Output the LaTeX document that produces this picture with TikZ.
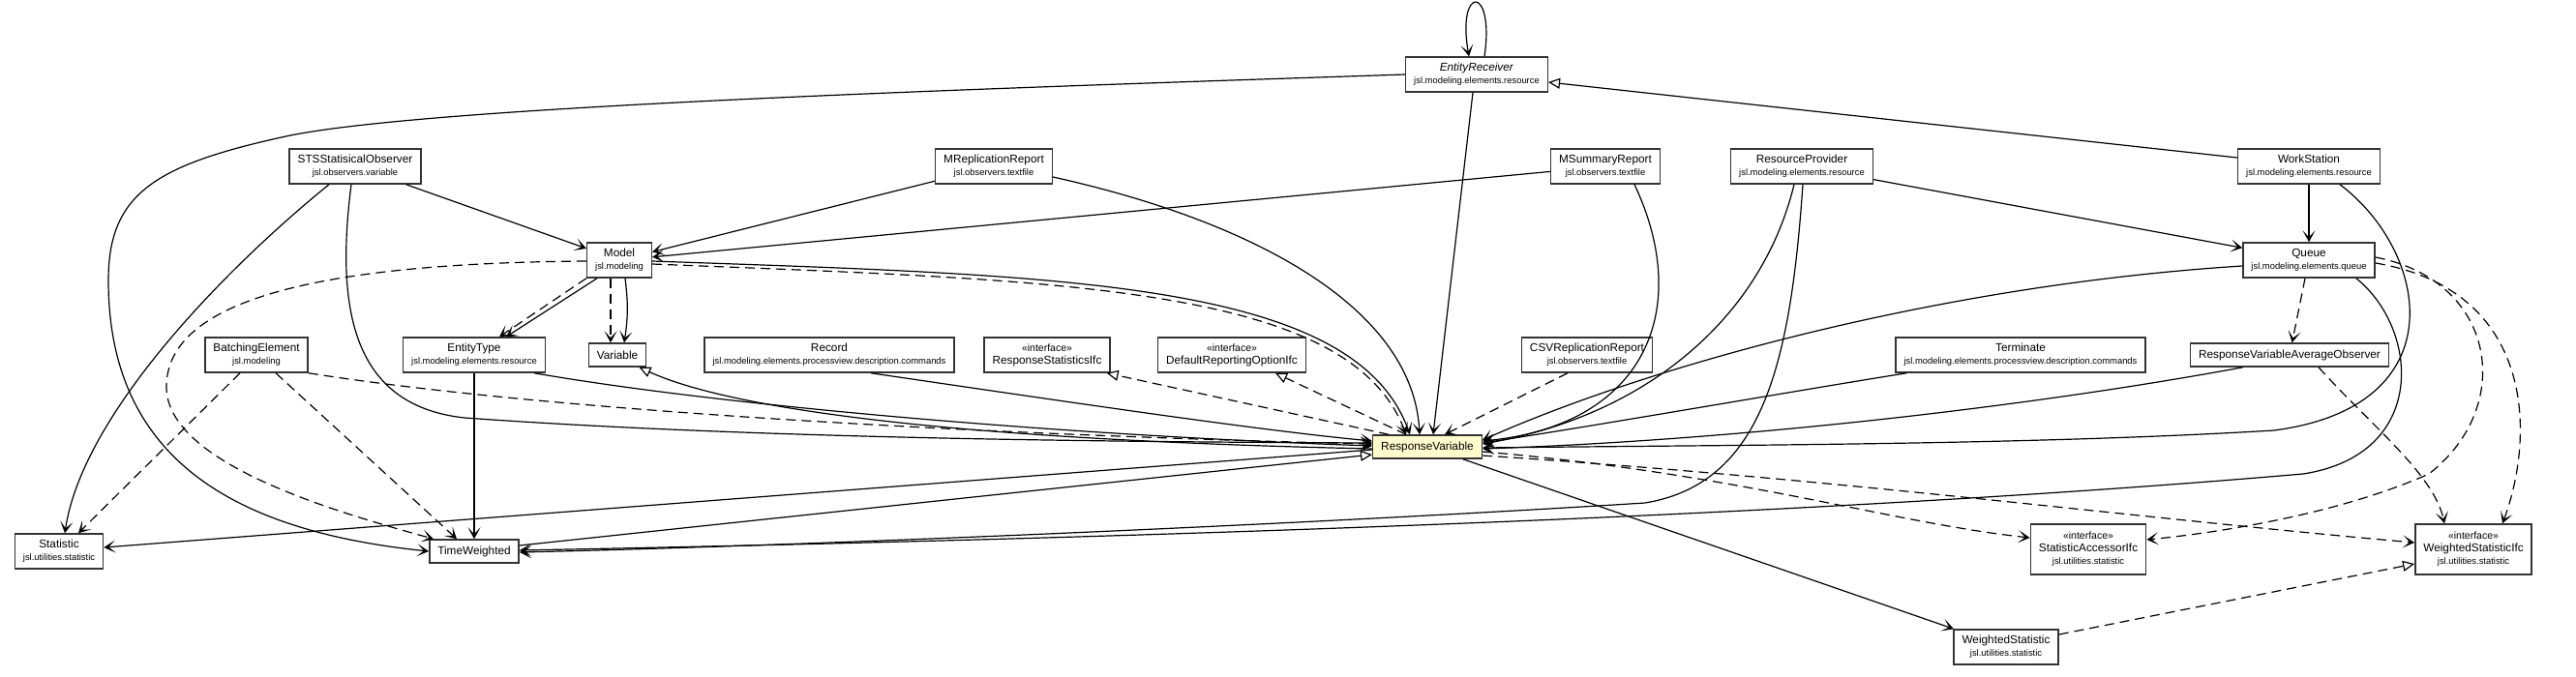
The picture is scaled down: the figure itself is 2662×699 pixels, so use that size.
\documentclass[tikz,border=0pt]{standalone}
\usepackage{fontspec}
\setmainfont{Liberation Sans}
\usepackage{tikz}
\usetikzlibrary{arrows.meta}
\definecolor{BoxLine}{HTML}{333333}
\definecolor{FocusYellow}{HTML}{FFFBCC}
\newcommand{\pkg}[1]{{\fontsize{9.4}{13}\selectfont #1}}
\newcommand{\ifc}{{\fontsize{10.5}{13}\selectfont «interface»}}

\begin{document}
\begin{tikzpicture}[x=1pt,y=-1pt,
  cls/.style={draw=BoxLine, line width=1.5pt, fill=white, align=center, inner xsep=8.5pt, inner ysep=2pt, minimum height=36pt, font=\fontsize{11.8}{13}\selectfont},
  single/.style={cls, minimum height=24pt},
  tall/.style={cls, minimum height=52pt},
  uses/.style={line width=1.2pt, -{Stealth[length=12pt,width=13pt,inset=7pt]}},
  dep/.style={uses, dash pattern=on 10pt off 6pt},
  ext/.style={line width=1.2pt, -{Triangle[length=12pt,width=11pt,fill=white]}},
  impl/.style={ext, dash pattern=on 10pt off 6pt}]
  \useasboundingbox (0,0) rectangle (2662,699);
  % classes
  \node[cls] (er) at (1526,77) {\textit{EntityReceiver}\\\pkg{jsl.modeling.elements.resource}};
  \node[cls] (sts) at (367,172) {STSStatisicalObserver\\\pkg{jsl.observers.variable}};
  \node[cls] (mrep) at (1027,172) {MReplicationReport\\\pkg{jsl.observers.textfile}};
  \node[cls] (msum) at (1659,172) {MSummaryReport\\\pkg{jsl.observers.textfile}};
  \node[cls] (rprov) at (1862,172) {ResourceProvider\\\pkg{jsl.modeling.elements.resource}};
  \node[cls] (ws) at (2386,172) {WorkStation\\\pkg{jsl.modeling.elements.resource}};
  \node[cls] (model) at (640,269) {Model\\\pkg{jsl.modeling}};
  \node[cls] (queue) at (2386,269) {Queue\\\pkg{jsl.modeling.elements.queue}};
  \node[cls] (batch) at (265,367) {BatchingElement\\\pkg{jsl.modeling}};
  \node[cls] (etype) at (490,367) {EntityType\\\pkg{jsl.modeling.elements.resource}};
  \node[single] (var) at (638,367) {Variable};
  \node[cls] (rec) at (857,367) {Record\\\pkg{jsl.modeling.elements.processview.description.commands}};
  \node[cls] (rsifc) at (1082,367) {\ifc\\ResponseStatisticsIfc};
  \node[cls] (droifc) at (1273,367) {\ifc\\DefaultReportingOptionIfc};
  \node[cls] (csv) at (1640,367) {CSVReplicationReport\\\pkg{jsl.observers.textfile}};
  \node[cls] (term) at (2088,367) {Terminate\\\pkg{jsl.modeling.elements.processview.description.commands}};
  \node[single] (rvao) at (2366,367) {ResponseVariableAverageObserver};
  \node[single, fill=FocusYellow] (rv) at (1475,462) {ResponseVariable};
  \node[cls] (stat) at (61,570) {Statistic\\\pkg{jsl.utilities.statistic}};
  \node[single] (tw) at (490,570) {TimeWeighted};
  \node[tall] (saifc) at (2158,568) {\ifc\\StatisticAccessorIfc\\\pkg{jsl.utilities.statistic}};
  \node[tall] (wsifc) at (2556,568) {\ifc\\WeightedStatisticIfc\\\pkg{jsl.utilities.statistic}};
  \node[cls] (wstat) at (2073,669) {WeightedStatistic\\\pkg{jsl.utilities.statistic}};

  % EntityReceiver
  \draw[uses] ([xshift=8pt]er.north) .. controls (1545,-16) and (1505,-16) .. ([xshift=-8pt]er.north);
  \draw[uses] (er.west) .. controls (1000,92) and (450,110) .. (300,140) .. controls (160,170) and (112,200) .. (112,290) .. controls (112,480) and (250,550) .. (tw.west);
  \draw[uses] ([xshift=-4pt]er.south) -- ([xshift=6pt]rv.north);
  \draw[ext] ([yshift=9pt]ws.west) -- ([yshift=-8pt]er.east);

  % top row
  \draw[uses] (sts) -- (model);
  \draw[uses] ([xshift=-27pt]sts.south) .. controls (230,280) and (85,430) .. ([xshift=6pt]stat.north);
  \draw[uses] ([xshift=-4pt]sts.south) .. controls (345,330) and (370,420) .. (480,432) .. controls (800,455) and (1200,457) .. ([yshift=4pt]rv.west);
  \draw[uses] (mrep) -- (model);
  \draw[uses] ([yshift=-11pt]mrep.east) .. controls (1300,230) and (1460,320) .. ([xshift=-8pt]rv.north);
  \draw[uses] (msum) -- (model);
  \draw[uses] ([xshift=30pt]msum.south) .. controls (1750,320) and (1700,440) .. ([yshift=6pt]rv.east);
  \draw[uses] (rprov) -- (queue);
  \draw[uses] ([xshift=-8pt]rprov.south) .. controls (1820,330) and (1700,430) .. ([yshift=3pt]rv.east);
  \draw[uses] ([xshift=1pt]rprov.south) .. controls (1850,380) and (1820,500) .. (1700,520) .. controls (1300,545) and (800,565) .. ([yshift=-1pt]tw.east);
  \draw[uses] (ws) -- (queue);
  \draw[uses] ([xshift=32pt]ws.south) .. controls (2510,260) and (2540,420) .. (2350,445) .. controls (2100,460) and (1800,460) .. ([yshift=-1pt]rv.east);

  % Model
  \draw[dep] ([xshift=-9pt]model.south) -- ([xshift=-7pt]var.north);
  \draw[uses] ([xshift=6pt]model.south) to[bend left=8] ([xshift=7pt]var.north);
  \draw[dep] (model.south west) -- ([xshift=26pt]etype.north);
  \draw[uses] ([xshift=-23pt]model.south) -- ([xshift=33pt]etype.north);
  \draw[dep] ([yshift=-1pt]model.west) .. controls (330,272) and (172,310) .. (172,400) .. controls (172,480) and (350,530) .. ([xshift=-42pt]tw.north);
  \draw[uses] ([yshift=-1pt]model.east) .. controls (1100,285) and (1400,290) .. ([xshift=-18pt]rv.north);
  \draw[dep] ([yshift=-4pt]model.east) .. controls (1100,290) and (1395,295) .. ([xshift=-22pt]rv.north);

  % middle row
  \draw[uses] ([xshift=-12pt]etype.south east) .. controls (750,420) and (1100,450) .. ([yshift=1pt]rv.west);
  \draw[uses] (etype) -- (tw);
  \draw[ext] ([yshift=-2pt]rv.west) .. controls (1000,455) and (760,425) .. ([xshift=-8pt]var.south east);
  \draw[uses] ([xshift=43pt]rec.south) .. controls (1100,415) and (1300,445) .. ([yshift=6pt]rv.west);
  \draw[impl] ([xshift=-40pt]rv.north) -- ([xshift=-4pt]rsifc.south east);
  \draw[impl] ([xshift=-22pt]rv.north) -- ([xshift=45pt]droifc.south);
  \draw[dep] ([xshift=-20pt]csv.south) -- ([xshift=18pt]rv.north);
  \draw[uses] ([xshift=12pt]term.south west) .. controls (1850,405) and (1650,440) .. ([yshift=4pt]rv.east);
  \draw[uses] ([xshift=55pt]rvao.south west) .. controls (2100,420) and (1800,455) .. ([yshift=-2pt]rv.east);
  \draw[dep] ([xshift=30pt]rvao.south) .. controls (2450,440) and (2515,490) .. ([xshift=-30pt]wsifc.north);
  \draw[dep] ([xshift=-17pt]batch.south) -- ([xshift=20pt]stat.north);
  \draw[dep] ([xshift=20pt]batch.south) -- ([xshift=-18pt]tw.north);
  \draw[dep] (batch.south east) .. controls (600,430) and (1100,452) .. ([yshift=3pt]rv.west);

  % Queue
  \draw[uses] ([yshift=-6pt]queue.west) .. controls (2000,295) and (1700,380) .. ([yshift=7pt]rv.east);
  \draw[uses] ([xshift=-20pt]queue.south east) .. controls (2500,340) and (2510,470) .. (2380,490) .. controls (1800,540) and (1000,560) .. ([yshift=1pt]tw.east);
  \draw[dep] ([xshift=-4pt]queue.south) -- (rvao);
  \draw[dep] ([yshift=3pt]queue.east) .. controls (2580,290) and (2600,420) .. (2510,490) .. controls (2420,530) and (2300,550) .. ([yshift=10pt]saifc.east);
  \draw[dep] ([yshift=-3pt]queue.east) .. controls (2620,300) and (2620,450) .. ([xshift=30pt]wsifc.north);

  % ResponseVariable
  \draw[uses] ([yshift=-3pt]rv.west) -- ([yshift=4pt]stat.east);
  \draw[ext] ([yshift=6pt]tw.east) -- ([yshift=-8pt]rv.west);
  \draw[dep] ([yshift=-5pt]rv.east) .. controls (1800,490) and (1950,540) .. ([yshift=12pt]saifc.west);
  \draw[dep] ([yshift=-9pt]rv.east) .. controls (1900,495) and (2200,535) .. ([yshift=7pt]wsifc.west);
  \draw[uses] (rv) -- (wstat);
  \draw[impl] ([yshift=13pt]wstat.east) -- ([yshift=-15pt]wsifc.west);
\end{tikzpicture}
\end{document}
